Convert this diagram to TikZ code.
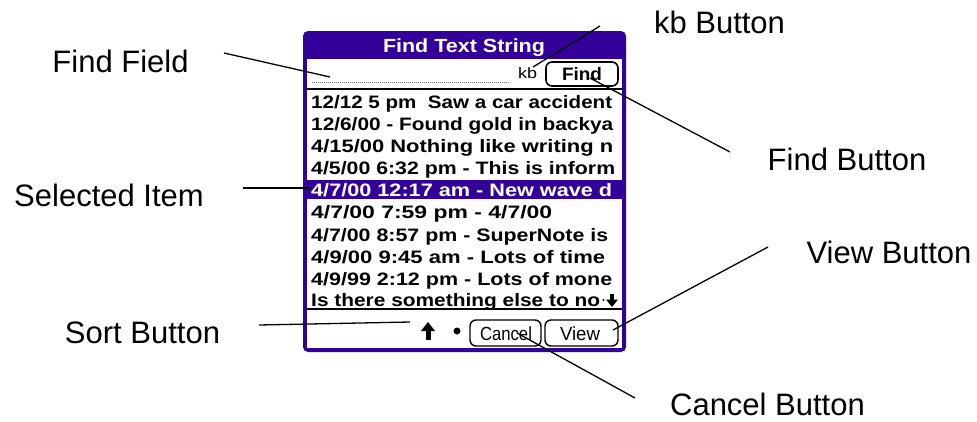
\documentclass[tikz,border=0pt]{standalone}
\usepackage{fontspec}
\setmainfont{Liberation Sans}
\usepackage{graphicx}
\definecolor{palmpurple}{HTML}{330099}
\begin{document}
\begin{tikzpicture}[x=1pt,y=-1pt,
  lbl/.style={font=\fontsize{31}{36}\selectfont, anchor=base, inner sep=0pt},
  leader/.style={draw=black, line width=1.3pt},
  palmbtn/.style={draw=black, line width=1.6pt, rounded corners=6pt, fill=white},
  row/.style={anchor=base west, inner sep=0pt, font=\fontsize{18}{20}\selectfont\bfseries},
  btntext/.style={anchor=base, inner sep=0pt, font=\fontsize{19}{22}\selectfont},
]
\useasboundingbox (0,0) rectangle (977,421);
% frame
\fill[palmpurple, rounded corners=5pt] (303,31) rectangle (626,352);
\fill[white] (307,59) rectangle (622,348);
\node[anchor=base, inner sep=0pt, text=white, font=\fontsize{19}{22}\selectfont\bfseries] (title) at (464,52.5) {\resizebox{162pt}{\height}{Find Text String}};
% find field
\draw[gray, line width=1pt, dash pattern=on 1pt off 1pt] (312,82) -- (510,82);
\node[anchor=base, inner sep=0pt, font=\fontsize{15}{18}\selectfont] (kb) at (527.5,78) {\resizebox{19pt}{\height}{kb}};
\draw[palmbtn] (546,62) rectangle (618,86);
\node[anchor=base, inner sep=0pt, font=\fontsize{18}{20}\selectfont\bfseries] (findbtn) at (582,80) {\resizebox{40pt}{\height}{Find}};
\draw[black, line width=1.3pt] (307,89) -- (622,89);
% list
\fill[palmpurple] (307,180) rectangle (622,199);
\node[row] (r0) at (311,108.5) {\resizebox{301pt}{\height}{12/12 5 pm\ \ Saw a car accident}};
\node[row] (r1) at (311,130.5) {\resizebox{302pt}{\height}{12/6/00 - Found gold in backya}};
\node[row] (r2) at (311,152.5) {\resizebox{302pt}{\height}{4/15/00 Nothing like writing n}};
\node[row] (r3) at (311,174) {\resizebox{304pt}{\height}{4/5/00 6:32 pm - This is inform}};
\node[row, text=white] (r4) at (311,196) {\resizebox{301pt}{\height}{4/7/00 12:17 am - New wave d}};
\node[row] (r5) at (311,218) {\resizebox{241pt}{\height}{4/7/00 7:59 pm - 4/7/00}};
\node[row] (r6) at (311,241) {\resizebox{297pt}{\height}{4/7/00 8:57 pm - SuperNote is}};
\node[row] (r7) at (311,263) {\resizebox{294pt}{\height}{4/9/00 9:45 am - Lots of time}};
\node[row] (r8) at (311,285.5) {\resizebox{301pt}{\height}{4/9/99 2:12 pm - Lots of mone}};
\node[row] (r9) at (311,306) {\resizebox{289pt}{\height}{Is there something else to no}};
\fill (603.5,300) circle (1.2);
\fill (610,294) rectangle (614,300);
\fill (606,299.5) -- (618,299.5) -- (612,307) -- cycle;
\draw[black, line width=1.3pt] (307,309) -- (622,309);
% bottom bar
\fill (428,322) -- (435,331) -- (421,331) -- cycle;
\fill (425.5,330) rectangle (430.5,340);
\fill (457,331) circle (3.5);
\draw[palmbtn, line width=1.4pt] (470,320) rectangle (541,346);
\node[btntext] (cancel) at (506,340) {\resizebox{52pt}{\height}{Cancel}};
\draw[palmbtn, line width=1.4pt] (545,320) rectangle (618,346);
\node[btntext] (view) at (580,340) {\resizebox{40pt}{\height}{View}};
% labels
\node[lbl] (lff) at (120.5,72) {Find Field};
\node[lbl] (lsel) at (109,206) {Selected Item};
\node[lbl] (lsort) at (142.5,343) {Sort Button};
\node[lbl] (lkb) at (719.5,33) {kb Button};
\node[lbl] (lfind) at (847,170) {Find Button};
\node[lbl] (lview) at (889,263) {View Button};
\node[lbl] (lcancel) at (767.5,415) {Cancel Button};
% connector ends
\coordinate (ffa) at (224,53);  \coordinate (ffb) at (330,77);
\coordinate (sela) at (243,188); \coordinate (selb) at (311,188);
\coordinate (sorta) at (259,325); \coordinate (sortb) at (410,322);
\coordinate (kba) at (600,26);  \coordinate (kbb) at (533,67);
\coordinate (fba) at (730,152); \coordinate (fbb) at (590,78);
\coordinate (vba) at (768,247); \coordinate (vbb) at (613,330);
\coordinate (cba) at (635,398); \coordinate (cbb) at (517,333);
\draw[leader] (ffa) -- (ffb);
\draw[leader] (sela) -- (selb);
\draw[leader] (sorta) -- (sortb);
\draw[leader] (kba) -- (kbb);
\draw[leader] (fba) -- (fbb);
\draw[leader] (vba) -- (vbb);
\draw[leader] (cba) -- (cbb);
\end{tikzpicture}
\end{document}
